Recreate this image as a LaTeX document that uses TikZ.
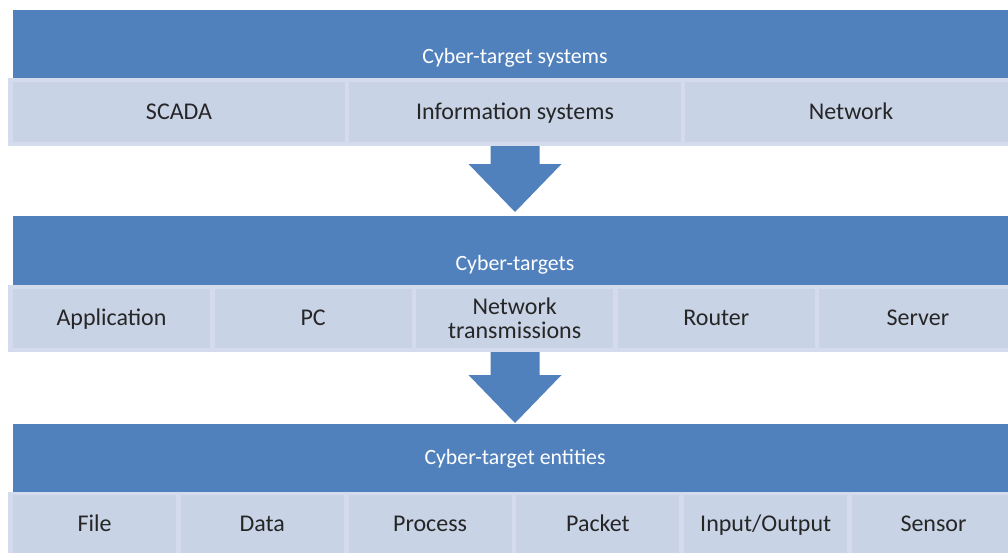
\documentclass[tikz,border=0pt]{standalone}
\usepackage{fontspec}
\setmainfont{Carlito}
\usetikzlibrary{calc}
\definecolor{hdrblue}{HTML}{5181BD}
\definecolor{cellfill}{HTML}{C8D3E6}
\definecolor{cellrim}{HTML}{D3DBEC}
\definecolor{celltext}{HTML}{262626}
\begin{document}
\begin{tikzpicture}[x=1pt,y=-1pt,
  hdr/.style={fill=hdrblue, draw=none, minimum width=1004pt, anchor=north west, inner sep=0pt, outer sep=0pt},
  hdrtext/.style={text=white, font=\fontsize{21.8}{24}\selectfont, anchor=base, inner sep=0pt},
  rowbg/.style={fill=cellrim, draw=none, minimum width=1014pt, anchor=north west, inner sep=0pt, outer sep=0pt},
  cell/.style={fill=cellfill, draw=none, anchor=north west, inner sep=0pt, outer sep=0pt,
    text=celltext, font=\fontsize{24}{24}\selectfont, align=center, text height=17pt, text depth=3pt},
  twoline/.style={text height=, text depth=},
  blockarrow/.style={fill=hdrblue, draw=none}]
\useasboundingbox (0,0) rectangle (1008,552);
\clip (0,0) rectangle (1008,552);

% level 1: systems
\node[hdr, minimum height=68pt] (h1) at (13,10) {};
\node[hdrtext] (t1) at (515,63) {Cyber-target systems};
\node[rowbg, minimum height=68pt] (r1) at (8,78) {};
\foreach \i/\txt in {0/SCADA,1/Information systems,2/Network}
  \node[cell, minimum width=332pt, minimum height=60pt] (c1-\i) at (13+336*\i,82) {\txt};

% level 2: targets
\node[hdr, minimum height=69pt] (h2) at (13,216) {};
\node[hdrtext] (t2) at (515,270) {Cyber-targets};
\node[rowbg, minimum height=67pt] (r2) at (8,285) {};
\foreach \i/\txt in {0/Application,1/PC,3/Router,4/Server}
  \node[cell, minimum width=197pt, minimum height=59pt] (c2-\i) at (13+201.6*\i,289) {\txt};
\node[cell, twoline, minimum width=197pt, minimum height=59pt] (c2-2) at (13+201.6*2,289) {Network\\transmissions};

% level 3: entities
\node[hdr, minimum height=68pt] (h3) at (13,424) {};
\node[hdrtext] (t3) at (515,464) {Cyber-target entities};
\node[rowbg, minimum height=66pt] (r3) at (8,492) {};
\foreach \i/\txt in {0/File,1/Data,2/Process,3/Packet,4/Input\slash Output,5/Sensor}
  \node[cell, minimum width=163pt, minimum height=58pt] (c3-\i) at (13+167.8*\i,495) {\txt};

% block arrows between the levels
\coordinate (a1top) at (r1.south -| h1.center);
\coordinate (a1tip) at ([yshift=4pt]h2.north);
\coordinate (a2top) at (r2.south -| h2.center);
\coordinate (a2tip) at ([yshift=1pt]h3.north);
\foreach \a in {a1,a2}
  \fill[blockarrow] ($(\a top)+(-24.5,0)$) -- ($(\a tip)+(-24.5,-48)$) -- ($(\a tip)+(-46.5,-48)$)
    -- (\a tip) -- ($(\a tip)+(46.5,-48)$) -- ($(\a tip)+(24.5,-48)$) -- ($(\a top)+(24.5,0)$) -- cycle;
\end{tikzpicture}
\end{document}
